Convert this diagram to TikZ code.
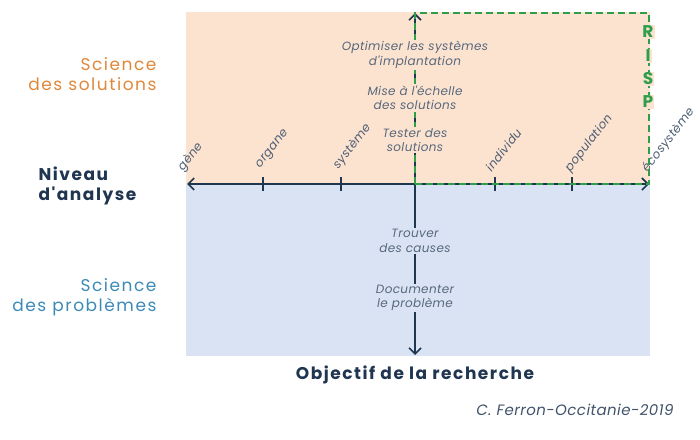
\documentclass[tikz,border=0pt]{standalone}
\usepackage{fontspec}
\setmainfont{Poppins}
\newfontfamily\spaced[LetterSpace=9]{Poppins}
\newfontfamily\lightspaced[LetterSpace=3]{Poppins}
\usepackage{tikz}
\usetikzlibrary{arrows.meta,calc}

\definecolor{peach}{HTML}{FCE3D0}
\definecolor{lightblue}{HTML}{DAE3F3}
\definecolor{navy}{HTML}{1F3550}
\definecolor{solorange}{HTML}{E0873A}
\definecolor{problue}{HTML}{3B8AB8}
\definecolor{rispgreen}{HTML}{2E9E4A}

\tikzset{
  barb/.tip={Straight Barb[length=6pt,width=12pt,line width=1.6pt]},
  axis/.style={navy,line width=1.6pt,barb-barb},
  goal/.style={fill=peach,inner sep=1.5pt,align=center,font=\lightspaced\fontsize{12}{14.5}\selectfont\itshape,text=navy!75},
  level/.style={rotate=52,anchor=south west,inner sep=1pt,font=\lightspaced\fontsize{12}{12}\selectfont\itshape,text=navy!80},
  side/.style={align=right,anchor=east,font=\spaced\fontsize{17}{20}\selectfont}
}

\begin{document}
\begin{tikzpicture}[x=1pt,y=-1pt]
\useasboundingbox (0,0) rectangle (700,439);

% Background areas
\fill[peach] (186,12) rectangle (650,185);
\fill[lightblue] (186,185) rectangle (650,356);

% Axes
\coordinate (top) at (415,13);
\coordinate (bottom) at (415,355);
\coordinate (left) at (187,184);
\coordinate (right) at (649,184);
\coordinate (origin) at (415,184);
\draw[axis] (top) -- (bottom);
\draw[axis] (left) -- (right);

% Level ticks
\foreach \x/\name in {263/organe,341/systeme,495/individu,572/population}
{
    \coordinate (\name) at (\x,184);
    \draw[navy,line width=1.6pt] ($(\name)+(0,-7)$) -- ($(\name)+(0,7)$);
}
\coordinate (gene) at (189,184);
\coordinate (ecosysteme) at (649,184);

% Level labels
\node[level] (lgene) at ($(gene)+(-3,-9)$) {gène};
\node[level] (lorgane) at ($(organe)+(0,-12)$) {organe};
\node[level] (lsysteme) at ($(systeme)+(0,-11)$) {système};
\node[level] (lindividu) at ($(individu)+(-3,-10)$) {individu};
\node[level] (lpopulation) at ($(population)+(1,-8)$) {population};
\node[level] (lecosysteme) at ($(ecosysteme)+(1,-8)$) {écosystème};

% RISP area
\draw[rispgreen,line width=1.6pt,dash pattern=on 7pt off 4pt] (origin) -- (top) -- (649,13) -- (right) -- cycle;
\foreach \y/\letter in {32/R,56/I,79/S,102/P}
{
    \node[text=rispgreen,font=\fontsize{17}{17}\selectfont\bfseries,fill=peach,inner sep=1pt] (risp\letter) at (648,\y) {\letter};
}

% Research goals
\node[goal] (optimiser) at (415,55) {Optimiser les systèmes\\d'implantation};
\node[goal] (echelle) at (415,98) {Mise à l'échelle\\des solutions};
\node[goal] (tester) at (415,140) {Tester des\\solutions};
\node[goal,fill=lightblue] (causes) at (415,241) {Trouver\\des causes};
\node[goal,fill=lightblue] (documenter) at (415,298) {Documenter\\le problème};

% Side labels
\node[side,text=solorange] (solutions) at (160,74) {Science\\des solutions};
\node[side,text=problue] (problemes) at (160,297) {Science\\des problèmes};
\node[align=left,anchor=west,font=\spaced\fontsize{17}{20}\selectfont\bfseries,text=navy] (niveau) at (35,186) {Niveau\\d'analyse};
\node[font=\spaced\fontsize{17}{20}\selectfont\bfseries,text=navy] (objectif) at (415,375) {Objectif de la recherche};
\node[anchor=east,font=\lightspaced\fontsize{15}{18}\selectfont\itshape,text=navy!85] (credit) at (677,410) {C. Ferron-Occitanie-2019};
\end{tikzpicture}
\end{document}
